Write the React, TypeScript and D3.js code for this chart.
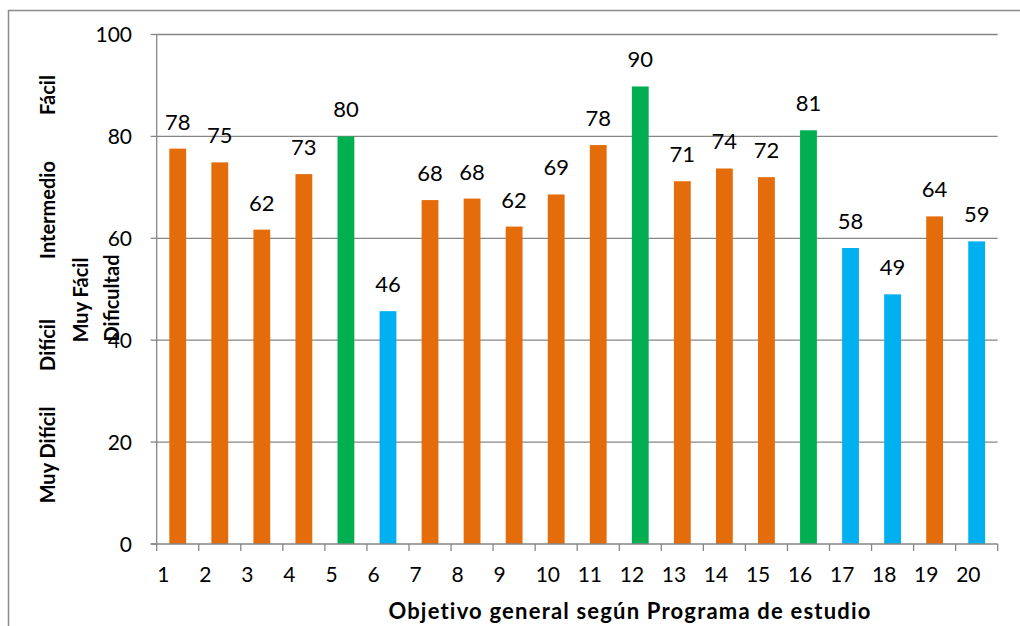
import React from "react";
import * as d3 from "d3";

const categories = ["1","2","3","4","5","6","7","8","9","10","11","12","13","14","15","16","17","18","19","20"];
const values = [77.6, 74.9, 61.7, 72.6, 80.0, 45.7, 67.5, 67.8, 62.3, 68.6, 78.3, 89.8, 71.2, 73.7, 72.0, 81.2, 58.1, 49.0, 64.3, 59.4];
const levels = ["med","med","med","med","easy","hard","med","med","med","med","med","easy","med","med","med","easy","hard","hard","med","hard"];
const yTicks = [0, 20, 40, 60, 80, 100];
const xTitle = "Objetivo general según Programa de estudio";
const sideLabels = [
  { text: "Fácil", x: 48, y: 95 },
  { text: "Intermedio", x: 48, y: 210 },
  { text: "Difícil", x: 48, y: 345 },
  { text: "Muy Difícil", x: 48, y: 455 },
  { text: "Muy Fácil", x: 81, y: 300 },
  { text: "Dificultad", x: 112, y: 298 },
];

const colors: Record<string, string> = { med: "#E46C0A", easy: "#00B050", hard: "#00B0F0" };
const FONT = "Lato, 'Open Sans', sans-serif";

export default function App() {
  const W = 1020, H = 626;
  const left = 156.7, right = 997.7, top = 34.5, bottom = 544;
  const x = d3.scaleBand<string>().domain(categories).range([left, right]).paddingInner(0.6).paddingOuter(0.3);
  const y = d3.scaleLinear().domain([0, 100]).range([bottom, top]);
  const xb = d3.scaleBand<string>().domain(categories).range([left, right]);
  const grid = "#868686";
  return (
    <svg width={W} height={H} style={{ position: "absolute", left: 0, top: 0 }}>
      <rect x={8.5} y={10.5} width={1100} height={700} fill="white" stroke="#8c8c8c" strokeWidth={1.5} />
      {yTicks.map((t) => (
        <g key={t}>
          {t > 0 && <line x1={left} x2={right} y1={y(t)} y2={y(t)} stroke={grid} strokeWidth={1.3} />}
          <line x1={left - 6} x2={left} y1={y(t)} y2={y(t)} stroke={grid} strokeWidth={1.3} />
          <text x={132} y={y(t)} dy="0.36em" textAnchor="end" fontFamily={FONT} fontSize={21} fill="#000">{t}</text>
        </g>
      ))}
      {categories.map((c, i) => (
        <g key={c}>
          <rect x={x(c)} y={y(values[i])} width={x.bandwidth()} height={bottom - y(values[i])} fill={colors[levels[i]]} />
          <text x={x(c)! + x.bandwidth() / 2} y={y(values[i]) - 19} textAnchor="middle" fontFamily={FONT} fontSize={22} fill="#000">{Math.round(values[i])}</text>
          <text x={xb(c)! + 0.5} y={581.5} textAnchor="start" fontFamily={FONT} fontSize={21} fill="#000">{c}</text>
        </g>
      ))}
      <line x1={left} x2={left} y1={top} y2={bottom} stroke={grid} strokeWidth={1.3} />
      <line x1={left - 6} x2={right} y1={bottom} y2={bottom} stroke={grid} strokeWidth={1.3} />
      {d3.range(categories.length + 1).map((i) => {
        const xx = left + (i * (right - left)) / categories.length;
        return <line key={i} x1={xx} x2={xx} y1={bottom} y2={bottom + 7} stroke={grid} strokeWidth={1.3} />;
      })}
      <text x={630} y={619} textAnchor="middle" fontFamily={FONT} fontSize={22} fontWeight="bold" letterSpacing={1.2} fill="#000">{xTitle}</text>
      {sideLabels.map((s) => (
        <text key={s.text} transform={`translate(${s.x},${s.y}) rotate(-90)`} textAnchor="middle" dy="0.35em" fontFamily={FONT} fontSize={20} fontWeight="bold" fill="#000">{s.text}</text>
      ))}
    </svg>
  );
}
